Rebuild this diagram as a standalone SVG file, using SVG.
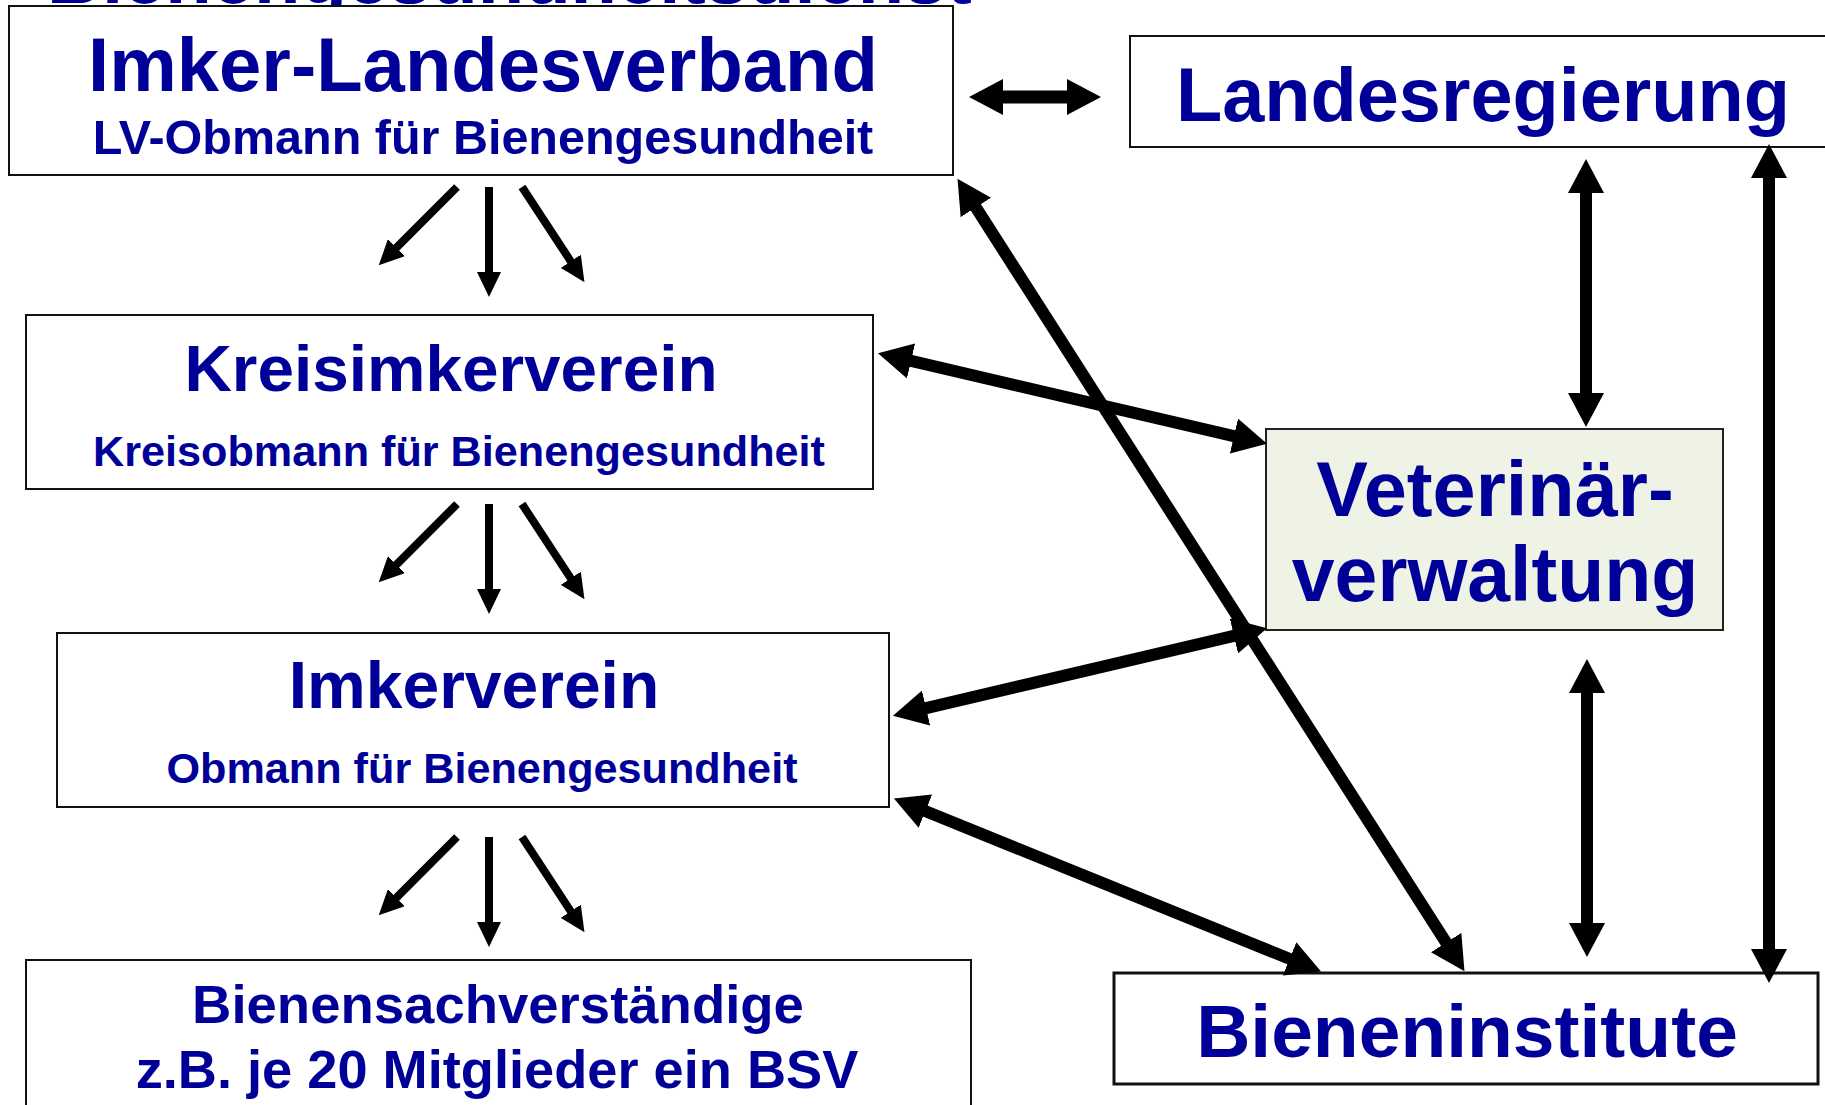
<svg xmlns="http://www.w3.org/2000/svg" width="1825" height="1105" viewBox="0 0 1825 1105">
<style>
.box{fill:#ffffff;stroke:#111111;stroke-width:2}
.vet{fill:#EFF3E6;stroke:#222222;stroke-width:2}
text{font-family:"Liberation Sans",Arial,sans-serif;font-weight:bold;fill:#000099;text-anchor:middle}
.big{stroke:#000;stroke-width:12;fill:none}
.small{stroke:#000;stroke-width:8;fill:none}
</style>
<defs>
<marker id="bigHead" viewBox="0 -18 34 36" refX="1" refY="0" markerWidth="34" markerHeight="36" markerUnits="userSpaceOnUse" orient="auto-start-reverse"><path d="M0,-18 L34,0 L0,18 z" fill="#000"/></marker>
<marker id="smallHead" viewBox="0 -12 25 24" refX="1" refY="0" markerWidth="25" markerHeight="24" markerUnits="userSpaceOnUse" orient="auto"><path d="M0,-12 L25,0 L0,12 z" fill="#000"/></marker>
</defs>
<rect width="1825" height="1105" fill="#ffffff"/>
<text x="47" y="3" font-size="76" style="text-anchor:start">Bienengesundheitsdienst</text>
<g id="imker-landesverband">
<rect class="box" x="9" y="6" width="944" height="169"/>
<text x="483" y="91" font-size="76">Imker-Landesverband</text>
<text x="483" y="154" font-size="48.5">LV-Obmann für Bienengesundheit</text>
</g>
<g id="landesregierung">
<rect class="box" x="1130" y="36" width="710" height="111"/>
<text x="1483" y="121" font-size="75.7">Landesregierung</text>
</g>
<g id="kreisimkerverein">
<rect class="box" x="26" y="315" width="847" height="174"/>
<text x="451" y="391" font-size="65.7">Kreisimkerverein</text>
<text x="459" y="466" font-size="43.2">Kreisobmann für Bienengesundheit</text>
</g>
<g id="imkerverein">
<rect class="box" x="57" y="633" width="832" height="174"/>
<text x="474" y="708" font-size="66">Imkerverein</text>
<text x="482" y="783" font-size="43.2">Obmann für Bienengesundheit</text>
</g>
<g id="bienensachverstaendige">
<rect class="box" x="26" y="960" width="945" height="160"/>
<text x="498" y="1023" font-size="54.5">Bienensachverständige</text>
<text x="497" y="1088" font-size="54.2">z.B. je 20 Mitglieder ein BSV</text>
</g>
<g id="veterinaerverwaltung">
<rect class="vet" x="1266" y="429" width="457" height="201"/>
<text x="1495" y="516" font-size="77.5">Veterinär-</text>
<text x="1495" y="601" font-size="77">verwaltung</text>
</g>
<g id="bieneninstitute">
<rect class="box" x="1114" y="973" width="704" height="111" style="stroke-width:3"/>
<text x="1467" y="1057" font-size="75">Bieneninstitute</text>
</g>
<g id="connectors">
<line class="small" x1="457" y1="187" x2="395.7" y2="248.3" marker-end="url(#smallHead)"/>
<line class="small" x1="489" y1="187" x2="489" y2="273" marker-end="url(#smallHead)"/>
<line class="small" x1="522" y1="187" x2="571.3" y2="262.1" marker-end="url(#smallHead)"/>
<line class="small" x1="457" y1="504" x2="395.7" y2="565.3" marker-end="url(#smallHead)"/>
<line class="small" x1="489" y1="504" x2="489" y2="590" marker-end="url(#smallHead)"/>
<line class="small" x1="522" y1="504" x2="571.3" y2="579.1" marker-end="url(#smallHead)"/>
<line class="small" x1="457" y1="837" x2="395.7" y2="898.3" marker-end="url(#smallHead)"/>
<line class="small" x1="489" y1="837" x2="489" y2="923" marker-end="url(#smallHead)"/>
<line class="small" x1="522" y1="837" x2="571.3" y2="912.1" marker-end="url(#smallHead)"/>
<line class="big" x1="1002" y1="97" x2="1068" y2="97" style="stroke-width:13" marker-start="url(#bigHead)" marker-end="url(#bigHead)"/>
<line class="big" x1="910.1" y1="360.7" x2="1234.9" y2="436.3" marker-start="url(#bigHead)" marker-end="url(#bigHead)"/>
<line class="big" x1="975.3" y1="206.6" x2="1446.7" y2="943.4" marker-start="url(#bigHead)" marker-end="url(#bigHead)"/>
<line class="big" x1="925.1" y1="708.3" x2="1234.9" y2="635.7" marker-start="url(#bigHead)" marker-end="url(#bigHead)"/>
<line class="big" x1="924.5" y1="810.8" x2="1290.5" y2="959.2" marker-start="url(#bigHead)" marker-end="url(#bigHead)"/>
<line class="big" x1="1586" y1="192" x2="1586" y2="394" marker-start="url(#bigHead)" marker-end="url(#bigHead)"/>
<line class="big" x1="1587" y1="692" x2="1587" y2="924" marker-start="url(#bigHead)" marker-end="url(#bigHead)"/>
<line class="big" x1="1769" y1="177" x2="1769" y2="950" marker-start="url(#bigHead)" marker-end="url(#bigHead)"/>
</g>
</svg>
